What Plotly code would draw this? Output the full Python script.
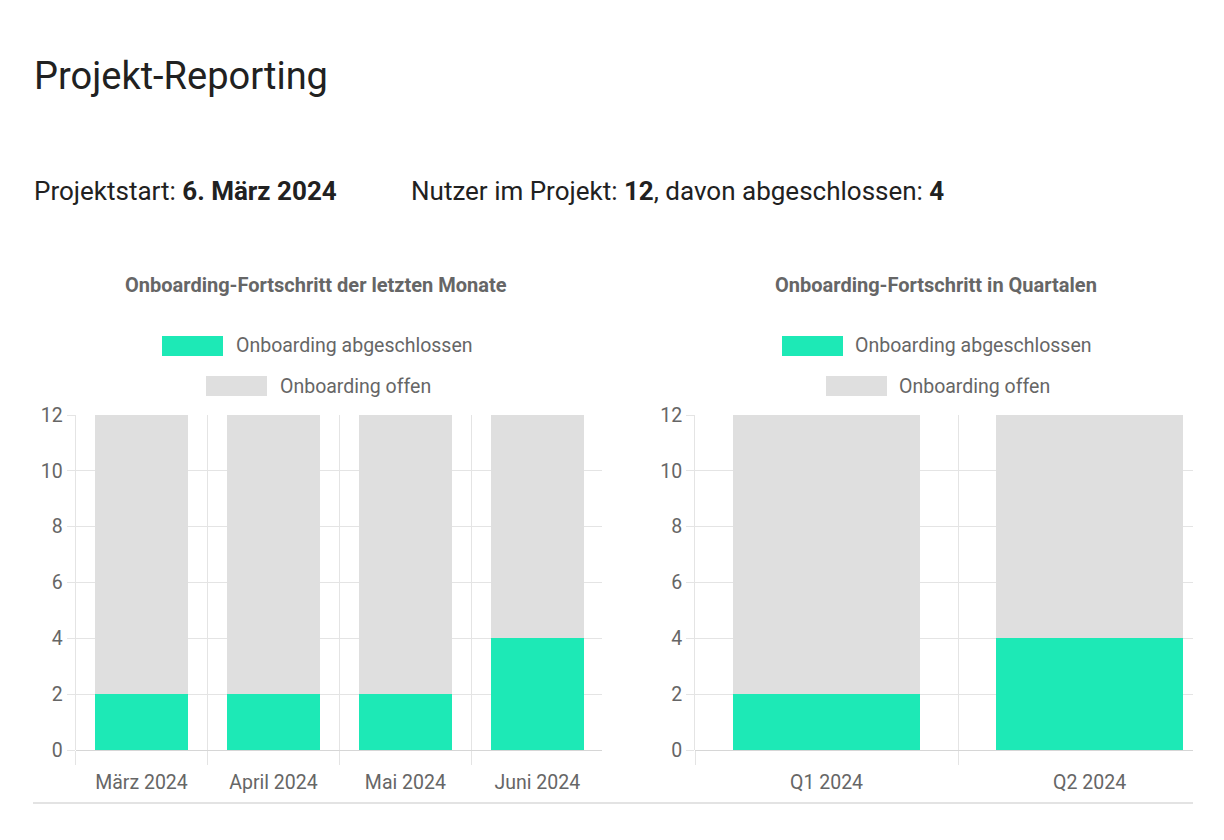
import plotly.graph_objects as go

# ---------------- data ----------------
months = ["März 2024", "April 2024", "Mai 2024", "Juni 2024"]
months_done = [2, 2, 2, 4]
months_open = [10, 10, 10, 8]

quarters = ["Q1 2024", "Q2 2024"]
quarters_done = [2, 4]
quarters_open = [10, 8]

y_ticks = [0, 2, 4, 6, 8, 10, 12]

series_names = ["Onboarding abgeschlossen", "Onboarding offen"]
colors = ["#1de9b6", "#dfdfdf"]

# ---------------- geometry helpers ----------------
OFF = 8          # default body margin of the page
W, H = 1224 - 2 * OFF, 840 - 2 * OFF


def px(X):
    return (X - OFF) / W


def py(Y):
    return 1 - (Y - OFF) / H


FONT = "Roboto, 'Open Sans', sans-serif"
GRID = "#e4e4e4"
TXT = "#666666"

fig = go.Figure()

# chart 1 (months)
fig.add_trace(go.Bar(x=months, y=months_done, name=series_names[0],
                     marker=dict(color=colors[0], line=dict(width=0)),
                     xaxis="x", yaxis="y", showlegend=False))
fig.add_trace(go.Bar(x=months, y=months_open, name=series_names[1],
                     marker=dict(color=colors[1], line=dict(width=0)),
                     xaxis="x", yaxis="y", showlegend=False))
# chart 2 (quarters)
fig.add_trace(go.Bar(x=quarters, y=quarters_done, name=series_names[0],
                     marker=dict(color=colors[0], line=dict(width=0)),
                     xaxis="x2", yaxis="y2", showlegend=False))
fig.add_trace(go.Bar(x=quarters, y=quarters_open, name=series_names[1],
                     marker=dict(color=colors[1], line=dict(width=0)),
                     xaxis="x2", yaxis="y2", showlegend=False))

xcommon = dict(type="category", showgrid=True, gridcolor=GRID, gridwidth=1,
               tickson="boundaries", ticks="outside", ticklen=14,
               tickcolor=GRID, tickwidth=1, showline=False, zeroline=False,
               ticklabelstandoff=18, automargin=False,
               tickfont=dict(family=FONT, size=19.5, color=TXT),
               fixedrange=True)
ycommon = dict(range=[0, 12], tickvals=y_ticks, showgrid=True, gridcolor=GRID,
               gridwidth=1, ticks="outside", ticklen=8, tickcolor=GRID,
               showline=True, linecolor=GRID, linewidth=1, zeroline=True,
               zerolinecolor="#d6d6d6", zerolinewidth=1, automargin=False,
               tickfont=dict(family=FONT, size=19.5, color=TXT),
               fixedrange=True)

y_dom = [py(750), py(415)]

fig.update_layout(
    width=W, height=H,
    margin=dict(l=0, r=0, t=0, b=0, autoexpand=False),
    paper_bgcolor="white", plot_bgcolor="white",
    barmode="stack", bargap=0.29,
    font=dict(family=FONT, color=TXT),
    xaxis=dict(domain=[px(75.5), px(602)], range=[-0.5, 3.49], anchor="y", **xcommon),
    yaxis=dict(domain=y_dom, anchor="x", **ycommon),
    xaxis2=dict(domain=[px(695), px(1193)], range=[-0.5, 1.393], anchor="y2", **xcommon),
    yaxis2=dict(domain=y_dom, anchor="x2", **ycommon),
)

annotations = [
    dict(text="Projekt-Reporting", x=px(32), y=py(76), xanchor="left", yanchor="middle",
         font=dict(family=FONT, size=38, color="#212121")),
    dict(text="Projektstart: <b>6. März 2024</b>", x=px(32), y=py(191),
         xanchor="left", yanchor="middle", font=dict(family=FONT, size=26, color="#212121")),
    dict(text="Nutzer im Projekt: <b>12</b>, davon abgeschlossen: <b>4</b>", x=px(409), y=py(191),
         xanchor="left", yanchor="middle", font=dict(family=FONT, size=26, color="#212121")),
    dict(text="<b>Onboarding-Fortschritt der letzten Monate</b>", x=px(316), y=py(285),
         xanchor="center", yanchor="middle", font=dict(family=FONT, size=20, color=TXT)),
    dict(text="<b>Onboarding-Fortschritt in Quartalen</b>", x=px(936), y=py(285),
         xanchor="center", yanchor="middle", font=dict(family=FONT, size=20, color=TXT)),
]

shapes = []
legend_rows = [
    # (box_left, text_left, y_center, series index)
    (162, 234, 346, 0), (206, 278, 386, 1),
    (782, 853, 346, 0), (826, 897, 386, 1),
]
for bx, tx, yc, i in legend_rows:
    shapes.append(dict(type="rect", xref="paper", yref="paper",
                       x0=px(bx), x1=px(bx + 61), y0=py(yc + 10), y1=py(yc - 10),
                       fillcolor=colors[i], line=dict(width=0)))
    annotations.append(dict(text=series_names[i], x=px(tx), y=py(yc), xanchor="left",
                            yanchor="middle", font=dict(family=FONT, size=19.5, color=TXT)))

# bottom separator
shapes.append(dict(type="line", xref="paper", yref="paper", x0=px(33), x1=px(1193),
                   y0=py(803), y1=py(803), line=dict(color="#e3e3e3", width=2)))

for a in annotations:
    a.update(xref="paper", yref="paper", showarrow=False)

fig.update_layout(annotations=annotations, shapes=shapes)

fig.write_html("out.html")
